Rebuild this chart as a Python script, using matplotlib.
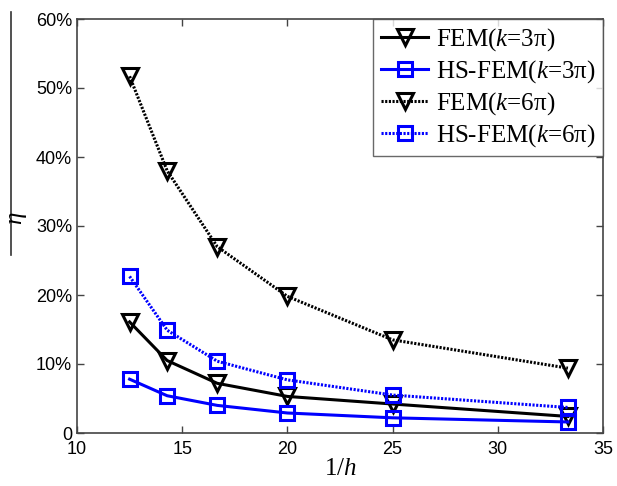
import numpy as np
import matplotlib
matplotlib.use('Agg')
import matplotlib.pyplot as plt
from matplotlib.lines import Line2D

plt.rcParams['mathtext.fontset'] = 'custom'
plt.rcParams['mathtext.rm'] = 'Liberation Serif'
plt.rcParams['mathtext.it'] = 'Liberation Serif:italic'

# Data
inv_h = [12.5, 14.2857, 16.6667, 20.0, 25.0, 33.3333]
fem_3pi = [16.1, 10.5, 7.2, 5.3, 4.2, 2.4]
hsfem_3pi = [7.8, 5.4, 4.0, 2.9, 2.2, 1.6]
fem_6pi = [51.7, 38.0, 27.0, 19.8, 13.5, 9.4]
hsfem_6pi = [22.7, 14.9, 10.4, 7.7, 5.5, 3.7]

xticks = [10, 15, 20, 25, 30, 35]
yticks = [0, 10, 20, 30, 40, 50, 60]
yticklabels = ['0', '10%', '20%', '30%', '40%', '50%', '60%']

fig = plt.figure(figsize=(6.17, 4.86), dpi=100)
ax = fig.add_axes([77/617, 1-433/486, (603-77)/617, (433-19)/486])

dots = (0, (0.7, 0.5))
line_kw = dict(linewidth=2.2, markerfacecolor='none', markeredgewidth=2.2)
ax.plot(inv_h, fem_3pi, '-', color='black', marker='v', markersize=12,
        label='FEM($\\it{k}$=3π)', **line_kw)
ax.plot(inv_h, hsfem_3pi, '-', color='#0000ff', marker='s', markersize=10,
        label='HS-FEM($\\it{k}$=3π)', **line_kw)
ax.plot(inv_h, fem_6pi, linestyle=dots, color='black', marker='v', markersize=12,
        label='FEM($\\it{k}$=6π)', **line_kw)
ax.plot(inv_h, hsfem_6pi, linestyle=dots, color='#0000ff', marker='s', markersize=10,
        label='HS-FEM($\\it{k}$=6π)', **line_kw)

ax.set_xlim(10, 35)
ax.set_ylim(0, 60)
ax.set_xticks(xticks)
ax.set_yticks(yticks)
ax.set_yticklabels(yticklabels)
ax.tick_params(direction='in', length=5, width=1, labelsize=13,
               top=True, right=True, color='#444444')
ax.tick_params(axis='x', pad=6)
for lbl in ax.get_xticklabels() + ax.get_yticklabels():
    lbl.set_family('Liberation Sans')
for sp in ax.spines.values():
    sp.set_color('#444444')
    sp.set_linewidth(1.2)

leg = ax.legend(loc='upper right', borderaxespad=0, fancybox=False,
                prop={'family': 'Liberation Serif', 'size': 18},
                handlelength=1.9, labelspacing=0.2, handletextpad=0.3,
                borderpad=0.3, frameon=True)
leg.get_frame().set_edgecolor('#444444')
leg.get_frame().set_linewidth(1.0)

ax.set_xlabel(r'1/$\it{h}$', family='Liberation Serif', fontsize=18, labelpad=0)

# y label: eta with a long overline
fig.text(18/617, 1-218/486, r'$\it{\eta}$', rotation=90, fontsize=18,
         family='Liberation Serif', ha='center', va='center')
fig.add_artist(Line2D([11/617, 11/617], [1-12/486, 1-255/486],
                      transform=fig.transFigure, color='#333333', linewidth=1.2))

fig.savefig('out.png', dpi=100)
